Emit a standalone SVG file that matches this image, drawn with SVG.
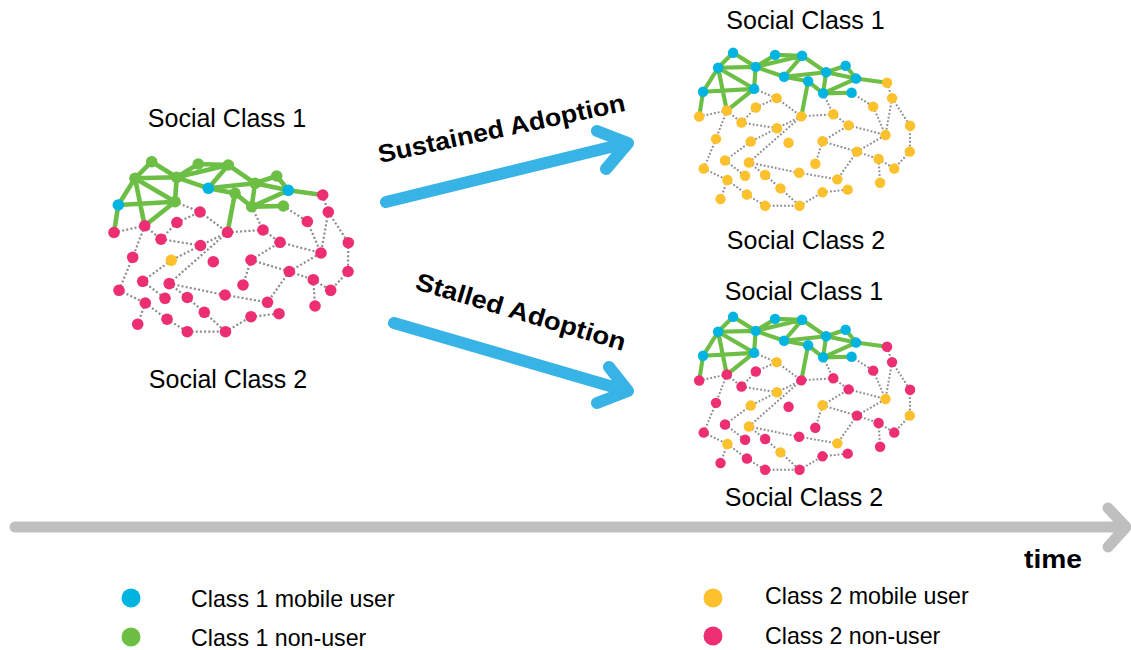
<svg xmlns="http://www.w3.org/2000/svg" xmlns:xlink="http://www.w3.org/1999/xlink" width="1131" height="650" viewBox="0 0 1131 650">
  <style>
    .label{font-family:"Liberation Sans",Arial,sans-serif;font-size:25px;fill:#000;text-anchor:middle}
    .bold{font-family:"Liberation Sans",Arial,sans-serif;font-size:25px;font-weight:bold;fill:#000}
    .legend{font-family:"Liberation Sans",Arial,sans-serif;font-size:23.2px;fill:#000}
    .tie{fill:none;stroke:#6cbe45;stroke-width:4.6;stroke-linecap:round}
    .link{fill:none;stroke:#8c8c8c;stroke-width:2.2;stroke-dasharray:2 2.2}
    .web circle{r:5.8px}
    .k-g{fill:var(--g,#6cbe45)}
    .k-b{fill:#00b4e1}
    .k-p{fill:var(--p,#ee2e72)}
    .k-q{fill:var(--q,#ee2e72)}
    .k-y{fill:#fdc12d}
    .flow{fill:none;stroke:#38b3e6;stroke-width:12;stroke-linecap:round;stroke-linejoin:round}
    .axis{fill:none;stroke:#bfbfbf;stroke-width:11;stroke-linecap:round;stroke-linejoin:round}
    #net-start{--g:#6cbe45;--p:#ee2e72;--q:#ee2e72}
    #net-sustained{--g:#00b4e1;--p:#fdc12d;--q:#fdc12d}
    #net-stalled{--g:#00b4e1;--p:#ee2e72;--q:#fdc12d}
  </style>
  <defs>
    <!-- shared social network: ties, dotted acquaintance links, people -->
    <g id="web" class="web">
      <path class="link" d="M114 232.5L144.7 225.8M144.7 225.8L132.7 257.3M132.7 257.3L119 290.3M144.7 225.8L161 239.2M161 239.2L200.5 245.5M161 239.2L176.9 222.5M176.9 222.5L200 212M175 201.7L200 212M200 212L227.5 232.3M227.5 232.3L200.5 245.5M200.5 245.5L171.3 260.3M171.3 260.3L142.7 281.3M227.5 232.3L169.2 283.6M227.5 232.3L263 230M251.7 206.7L263 230M263 230L280 242.3M280 242.3L321 253M251 260L280 242.3M251 260L289.3 271.5M251 260L243 285M289.3 271.5L321 253M289.3 271.5L313.3 279.7M313.3 279.7L330.7 290.3M313.3 279.7L315 306M289.3 271.5L267.5 302.3M169.2 283.6L225 295M225 295L267.5 302.3M142.7 281.3L165 298.3M169.2 283.6L187.3 297.5M187.3 297.5L204.3 312.3M204.3 312.3L225.5 331.7M187.3 331.7L225.5 331.7M225.5 331.7L251 316.7M251 316.7L279 313.7M119 290.3L145.3 303M145.3 303L137.7 324.2M145.3 303L167 319.2M167 319.2L187.3 331.7M283.3 206L307.3 221.5M307.3 221.5L321 253M322.7 195L328.3 212M328.3 212L321 253M328.3 212L348.3 242.7M348.3 242.7L348 271.5M348 271.5L330.7 290.3"/>
      <path class="tie" d="M151.7 161.7L135 178.3M151.7 161.7L176.7 177.3M135 178.3L176.7 177.3M135 178.3L118.3 205M135 178.3L175 201.7M135 178.3L144.7 225.8M118.3 205L175 201.7M118.3 205L114 232.5M176.7 177.3L175 201.7M175 201.7L144.7 225.8M176.7 177.3L198.3 164M176.7 177.3L228.3 165M176.7 177.3L208.3 188.3M198.3 164L228.3 165M228.3 165L208.3 188.3M228.3 165L255 183.3M208.3 188.3L255 183.3M208.3 188.3L235 193.3M235 193.3L251.7 206.7M235 193.3L227.5 232.3M255 183.3L276.7 176M255 183.3L288.3 190.3M255 183.3L251.7 206.7M276.7 176L288.3 190.3M288.3 190.3L251.7 206.7M251.7 206.7L283.3 206M288.3 190.3L322.7 195"/>
      <g>
        <circle class="k-g" cx="151.7" cy="161.7" r="5.8"/>
        <circle class="k-g" cx="135" cy="178.3" r="5.8"/>
        <circle class="k-g" cx="176.7" cy="177.3" r="5.8"/>
        <circle class="k-g" cx="198.3" cy="164" r="5.8"/>
        <circle class="k-g" cx="228.3" cy="165" r="5.8"/>
        <circle class="k-b" cx="208.3" cy="188.3" r="5.8"/>
        <circle class="k-g" cx="255" cy="183.3" r="5.8"/>
        <circle class="k-g" cx="276.7" cy="176" r="5.8"/>
        <circle class="k-b" cx="288.3" cy="190.3" r="5.8"/>
        <circle class="k-b" cx="118.3" cy="205" r="5.8"/>
        <circle class="k-g" cx="175" cy="201.7" r="5.8"/>
        <circle class="k-g" cx="235" cy="193.3" r="5.8"/>
        <circle class="k-g" cx="251.7" cy="206.7" r="5.8"/>
        <circle class="k-g" cx="283.3" cy="206" r="5.8"/>
      </g>
      <g>
        <circle class="k-p" cx="114" cy="232.5" r="5.8"/>
        <circle class="k-p" cx="144.7" cy="225.8" r="5.8"/>
        <circle class="k-p" cx="176.9" cy="222.5" r="5.8"/>
        <circle class="k-q" cx="200" cy="212" r="5.8"/>
        <circle class="k-p" cx="161" cy="239.2" r="5.8"/>
        <circle class="k-q" cx="200.5" cy="245.5" r="5.8"/>
        <circle class="k-p" cx="227.5" cy="232.3" r="5.8"/>
        <circle class="k-p" cx="263" cy="230" r="5.8"/>
        <circle class="k-p" cx="280" cy="242.3" r="5.8"/>
        <circle class="k-p" cx="307.3" cy="221.5" r="5.8"/>
        <circle class="k-p" cx="322.7" cy="195" r="5.8"/>
        <circle class="k-p" cx="328.3" cy="212" r="5.8"/>
        <circle class="k-p" cx="348.3" cy="242.7" r="5.8"/>
        <circle class="k-q" cx="348" cy="271.5" r="5.8"/>
        <circle class="k-q" cx="321" cy="253" r="5.8"/>
        <circle class="k-y" cx="171.3" cy="260.3" r="5.8"/>
        <circle class="k-p" cx="132.7" cy="257.3" r="5.8"/>
        <circle class="k-p" cx="213.3" cy="261.7" r="5.8"/>
        <circle class="k-q" cx="251" cy="260" r="5.8"/>
        <circle class="k-p" cx="289.3" cy="271.5" r="5.8"/>
        <circle class="k-p" cx="313.3" cy="279.7" r="5.8"/>
        <circle class="k-p" cx="330.7" cy="290.3" r="5.8"/>
        <circle class="k-p" cx="315" cy="306" r="5.8"/>
        <circle class="k-p" cx="142.7" cy="281.3" r="5.8"/>
        <circle class="k-q" cx="169.2" cy="283.6" r="5.8"/>
        <circle class="k-p" cx="119" cy="290.3" r="5.8"/>
        <circle class="k-p" cx="165" cy="298.3" r="5.8"/>
        <circle class="k-p" cx="187.3" cy="297.5" r="5.8"/>
        <circle class="k-p" cx="243" cy="285" r="5.8"/>
        <circle class="k-p" cx="225" cy="295" r="5.8"/>
        <circle class="k-q" cx="267.5" cy="302.3" r="5.8"/>
        <circle class="k-q" cx="145.3" cy="303" r="5.8"/>
        <circle class="k-q" cx="204.3" cy="312.3" r="5.8"/>
        <circle class="k-p" cx="279" cy="313.7" r="5.8"/>
        <circle class="k-p" cx="251" cy="316.7" r="5.8"/>
        <circle class="k-p" cx="137.7" cy="324.2" r="5.8"/>
        <circle class="k-p" cx="167" cy="319.2" r="5.8"/>
        <circle class="k-p" cx="187.3" cy="331.7" r="5.8"/>
        <circle class="k-p" cx="225.5" cy="331.7" r="5.8"/>
      </g>
    </g>
  </defs>

  <rect width="1131" height="650" fill="#fff"/>

  <!-- starting state -->
  <g id="net-start">
    <use href="#web" xlink:href="#web"/>
    <text class="label" x="227" y="127">Social Class 1</text>
    <text class="label" x="228" y="388">Social Class 2</text>
  </g>

  <!-- outcome: adoption spreads across classes -->
  <g id="net-sustained">
    <use href="#web" xlink:href="#web" transform="translate(596.6 -92.7) scale(0.9)"/>
    <text class="label" x="805.5" y="29">Social Class 1</text>
    <text class="label" x="806" y="249">Social Class 2</text>
  </g>

  <!-- outcome: adoption stays partial -->
  <g id="net-stalled">
    <use href="#web" xlink:href="#web" transform="translate(596.6 171.3) scale(0.9)"/>
    <text class="label" x="804" y="300">Social Class 1</text>
    <text class="label" x="804" y="506">Social Class 2</text>
  </g>

  <!-- transitions and timeline -->
  <g id="connectors">
    <g id="arrow-sustained">
      <path class="flow" d="M386 202L627 143M597 131L628 143L606 169"/>
      <text class="bold" transform="translate(380 163) rotate(-12)" textLength="252" lengthAdjust="spacingAndGlyphs">Sustained Adoption</text>
    </g>
    <g id="arrow-stalled">
      <path class="flow" d="M394 323L627 391M609 367L628 391L597 403"/>
      <text class="bold" transform="translate(414 289) rotate(16.5)" textLength="218" lengthAdjust="spacingAndGlyphs">Stalled Adoption</text>
    </g>
    <g id="time-axis">
      <path class="axis" d="M15 527L1124 527M1108 508L1126 527L1108 547"/>
      <text class="bold" x="1024" y="568" font-size="26" textLength="58" lengthAdjust="spacingAndGlyphs">time</text>
    </g>
  </g>

  <!-- key -->
  <g id="legend">
    <g id="legend-c1-user">
      <circle cx="131" cy="598" r="9.5" fill="#00b4e1"/>
      <text class="legend" x="191" y="606.5">Class 1 mobile user</text>
    </g>
    <g id="legend-c1-non">
      <circle cx="131" cy="637" r="9.5" fill="#6cbe45"/>
      <text class="legend" x="191" y="645.5">Class 1 non-user</text>
    </g>
    <g id="legend-c2-user">
      <circle cx="713" cy="598" r="9.5" fill="#fdc12d"/>
      <text class="legend" x="765" y="603.5">Class 2 mobile user</text>
    </g>
    <g id="legend-c2-non">
      <circle cx="713" cy="636" r="9.5" fill="#ee2e72"/>
      <text class="legend" x="765" y="644">Class 2 non-user</text>
    </g>
  </g>
</svg>
